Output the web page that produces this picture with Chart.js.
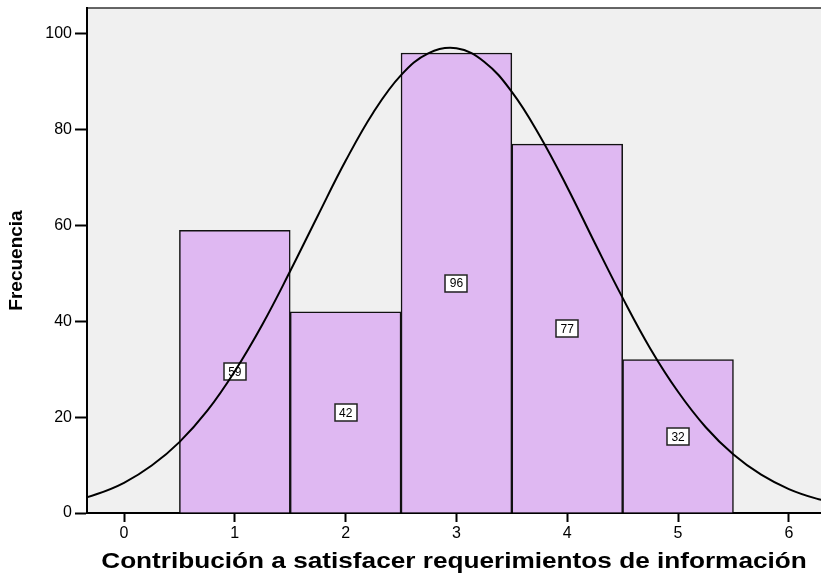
<!DOCTYPE html>
<html>
<head>
<meta charset="utf-8">
<script src="https://cdn.jsdelivr.net/npm/chart.js@4"></script>
<style>
  html, body { margin: 0; padding: 0; background: #fff; }
  #wrap { width: 821px; height: 577px; }
</style>
</head>
<body>
<div id="wrap"><canvas id="hist"></canvas></div>
<script>
// Histogram data
const categories = [1, 2, 3, 4, 5];
const frequencies = [59, 42, 96, 77, 32];

// Normal curve
const curveX = [-0.5, -0.25, 0, 0.25, 0.5, 0.75, 1, 1.25, 1.5, 1.75, 2, 2.25, 2.5, 2.75, 3, 3.25, 3.5, 3.75, 4, 4.25, 4.5, 4.75, 5, 5.25, 5.5, 5.75, 6, 6.25, 6.5];
const curveY = [2.3, 3.9, 6.3, 9.9, 14.8, 21.3, 29.6, 39.4, 50.5, 62.1, 73.5, 83.6, 91.4, 96.0, 97.0, 94.2, 87.9, 78.8, 68.0, 56.3, 44.9, 34.3, 25.3, 17.9, 12.2, 8.0, 5.0, 3.0, 1.7];

const xTicks = [0, 1, 2, 3, 4, 5, 6];
const yTicks = [0, 20, 40, 60, 80, 100];

const xTitle = "Contribución a satisfacer requerimientos de información";
const yTitle = "Frecuencia";

const FONT = "'Liberation Sans', Arial, sans-serif";

// plot background + top border
const plotBg = {
  id: "plotBg",
  beforeDraw(chart) {
    const { ctx, chartArea: a } = chart;
    ctx.save();
    ctx.fillStyle = "#f0f0f0";
    ctx.fillRect(a.left, a.top, a.right - a.left, a.bottom - a.top);
    ctx.strokeStyle = "#333";
    ctx.lineWidth = 1.5;
    ctx.beginPath();
    ctx.moveTo(a.left, a.top);
    ctx.lineTo(a.right, a.top);
    ctx.stroke();
    ctx.restore();
  },
};

// value boxes at half bar height, drawn before the curve
const valueBoxes = {
  id: "valueBoxes",
  afterDatasetDraw(chart, args) {
    if (args.index !== 1) return;
    const { ctx, scales } = chart;
    ctx.save();
    ctx.font = "12px " + FONT;
    ctx.textAlign = "center";
    ctx.textBaseline = "middle";
    categories.forEach((c, i) => {
      const x = scales.x.getPixelForValue(c);
      const y = scales.y.getPixelForValue(frequencies[i] / 2);
      const w = 22, h = 17;
      ctx.fillStyle = "#fff";
      ctx.fillRect(x - w / 2, y - h / 2, w, h);
      ctx.strokeStyle = "#222";
      ctx.lineWidth = 1.5;
      ctx.strokeRect(Math.round(x - w / 2), Math.round(y - h / 2), w, h);
      ctx.fillStyle = "#000";
      ctx.fillText(String(frequencies[i]), x, y + 1);
    });
    ctx.restore();
  },
};

// axis titles (SPSS-style, slightly wide lettering)
const axisTitles = {
  id: "axisTitles",
  afterDraw(chart) {
    const { ctx, chartArea: a } = chart;
    ctx.save();
    ctx.fillStyle = "#000";
    ctx.textAlign = "center";
    ctx.textBaseline = "alphabetic";
    ctx.font = "bold 22px " + FONT;
    ctx.translate((a.left + a.right) / 2, 568);
    ctx.scale(1.19, 1);
    ctx.fillText(xTitle, 0, 0);
    ctx.restore();

    ctx.save();
    ctx.fillStyle = "#000";
    ctx.textAlign = "center";
    ctx.textBaseline = "middle";
    ctx.font = "bold 19px " + FONT;
    ctx.translate(17, (a.top + a.bottom) / 2);
    ctx.rotate(-Math.PI / 2);
    ctx.fillText(yTitle, 0, 0);
    ctx.restore();
  },
};

const ctx = document.getElementById("hist").getContext("2d");
new Chart(ctx, {
  type: "bar",
  data: {
    datasets: [
      {
        type: "line",
        data: curveX.map((x, i) => ({ x: x, y: curveY[i] })),
        borderColor: "#000",
        borderWidth: 2,
        pointRadius: 0,
        tension: 0.4,
        fill: false,
      },
      {
        type: "bar",
        data: categories.map((c, i) => ({ x: c, y: frequencies[i] })),
        backgroundColor: "#dfb8f2",
        borderColor: "#111",
        borderWidth: 1.5,
        barPercentage: 1,
        categoryPercentage: 1,
      },
    ],
  },
  options: {
    responsive: true,
    maintainAspectRatio: false,
    animation: false,
    layout: { padding: { top: 8, right: 0, left: 0, bottom: 0 } },
    plugins: {
      legend: { display: false },
      tooltip: { enabled: false },
    },
    scales: {
      x: {
        type: "linear",
        offset: false,
        min: -0.334,
        max: 6.29,
        grid: { display: true, offset: false, drawOnChartArea: false, drawTicks: true, tickLength: 9, tickWidth: 2, color: "#000" },
        border: { display: true, color: "#000", width: 2 },
        afterBuildTicks(scale) {
          scale.ticks = xTicks.map((v) => ({ value: v }));
        },
        ticks: {
          color: "#000",
          font: { family: FONT, size: 16 },
          padding: 2,
          maxRotation: 0,
        },
        afterFit(scale) {
          scale.height = 64;
          scale.paddingLeft = 0;
          scale.paddingRight = 0;
        },
      },
      y: {
        min: 0,
        max: 105.4,
        grid: { display: true, drawOnChartArea: false, drawTicks: true, tickLength: 12, tickWidth: 2, color: "#000" },
        border: { display: true, color: "#000", width: 2 },
        afterBuildTicks(scale) {
          scale.ticks = yTicks.map((v) => ({ value: v }));
        },
        ticks: {
          color: "#000",
          font: { family: FONT, size: 16 },
          padding: 3,
        },
        afterFit(scale) {
          scale.width = 87;
          scale.paddingTop = 0;
          scale.paddingBottom = 0;
        },
      },
    },
  },
  plugins: [plotBg, valueBoxes, axisTitles],
});
</script>
</body>
</html>
